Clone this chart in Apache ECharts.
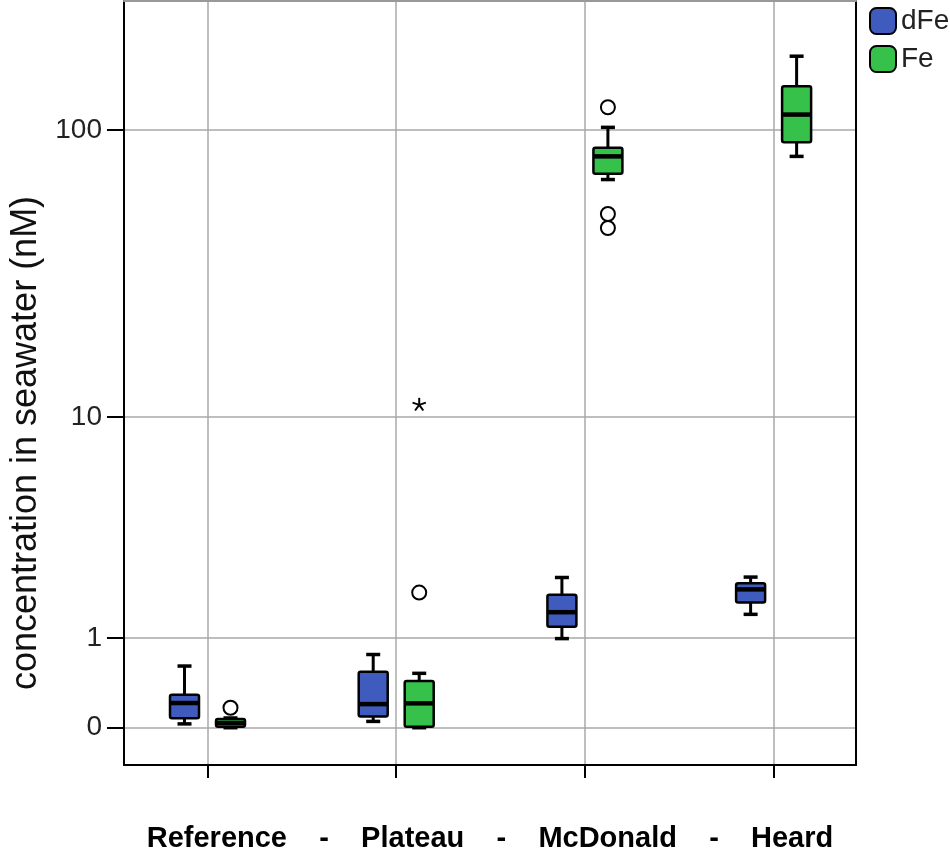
<!DOCTYPE html>
<html><head><meta charset="utf-8">
<script src="https://cdn.jsdelivr.net/npm/echarts@6/dist/echarts.min.js"></script>
<style>html,body{margin:0;padding:0;background:#fff}#c{width:950px;height:851px}</style>
</head><body><div id="c"></div>
<script>
// ---------------- data ----------------
const categories = ['Reference', 'Plateau', 'McDonald', 'Heard'];
const seriesNames = ['dFe', 'Fe'];
// box statistics per category: [lower whisker, Q1, median, Q3, upper whisker] (nM)
const dFeBoxes = [
  [0.03, 0.075, 0.21, 0.29, 0.61],
  [0.05, 0.09, 0.20, 0.54, 0.76],
  [0.99, 1.18, 1.44, 1.79, 2.19],
  [1.40, 1.63, 1.91, 2.05, 2.20]
];
const feBoxes = [
  [0.0, 0.008, 0.037, 0.07, 0.078],
  [0.0, 0.008, 0.207, 0.434, 0.522],
  [67.9, 71.1, 81.4, 87.0, 102.1],
  [81.4, 90.9, 112.8, 140.6, 177.6]
];
// outliers: [category index, value]
const feOutliers = [[0, 0.167], [1, 1.84], [2, 119.4], [2, 51.8], [2, 46.4]];
// extreme values (asterisk): [category index, value]
const feExtremes = [[1, 11.1]];
const yTickLabels = [0, 1, 10, 100];

// ---------------- styling / layout ----------------
const BLUE = '#3e5bbd', GREEN = '#36c14b', GRID = '#a9a9a9';
const FONT = 'Liberation Sans, Arial, sans-serif';
const BOX_W = 29, CAP_W = 14, OFFSET = 23;
const tf = v => Math.log10(v + 1);           // axis transform log10(x+1)
const yTickVals = yTickLabels.map(tf);

function boxData(boxes) {
  return boxes.map((b, i) => [i].concat(b.map(tf)));
}
function pointData(pts) {
  return pts.map(p => [p[0], tf(p[1])]);
}

function boxRender(offset, fill) {
  return function (params, api) {
    const x = api.value(0);
    const pMin = api.coord([x, api.value(1)]);
    const pQ1 = api.coord([x, api.value(2)]);
    const pMed = api.coord([x, api.value(3)]);
    const pQ3 = api.coord([x, api.value(4)]);
    const pMax = api.coord([x, api.value(5)]);
    const cx = pMed[0] + offset;
    const hw = BOX_W / 2, cw = CAP_W / 2;
    const ls = { stroke: '#000', lineWidth: 3 };
    return {
      type: 'group',
      children: [
        { type: 'line', shape: { x1: cx, y1: pMax[1], x2: cx, y2: pQ3[1] }, style: ls },
        { type: 'line', shape: { x1: cx, y1: pQ1[1], x2: cx, y2: pMin[1] }, style: ls },
        { type: 'line', shape: { x1: cx - cw, y1: pMax[1], x2: cx + cw, y2: pMax[1] }, style: { stroke: '#000', lineWidth: 3.5 } },
        { type: 'line', shape: { x1: cx - cw, y1: pMin[1], x2: cx + cw, y2: pMin[1] }, style: { stroke: '#000', lineWidth: 3.5 } },
        { type: 'rect', shape: { x: cx - hw, y: pQ3[1], width: BOX_W, height: pQ1[1] - pQ3[1], r: 2 },
          style: { fill: fill, stroke: '#000', lineWidth: 2.5 } },
        { type: 'line', shape: { x1: cx - hw, y1: pMed[1], x2: cx + hw, y2: pMed[1] }, style: { stroke: '#000', lineWidth: 4.5 } }
      ]
    };
  };
}
function outlierRender(offset) {
  return function (params, api) {
    const p = api.coord([api.value(0), api.value(1)]);
    return { type: 'circle', shape: { cx: p[0] + offset, cy: p[1], r: 7 },
      style: { fill: '#fff', stroke: '#000', lineWidth: 2 } };
  };
}
function extremeRender(offset) {
  return function (params, api) {
    const p = api.coord([api.value(0), api.value(1)]);
    const cx = p[0] + offset, cy = p[1];
    const arms = [];
    for (let k = 0; k < 5; k++) {
      const a = -Math.PI / 2 + k * 2 * Math.PI / 5;
      arms.push({ type: 'line', shape: { x1: cx, y1: cy, x2: cx + 7 * Math.cos(a), y2: cy + 7 * Math.sin(a) },
        style: { stroke: '#000', lineWidth: 2 } });
    }
    return { type: 'group', children: arms };
  };
}

const chart = echarts.init(document.getElementById('c'), null, { renderer: 'canvas' });
chart.setOption({
  animation: false,
  backgroundColor: '#fff',
  textStyle: { fontFamily: FONT },
  grid: { left: 124, right: 94, top: 1, bottom: 86, containLabel: false, outerBoundsMode: 'none' },
  legend: {
    orient: 'vertical', left: 869, top: 7, padding: 0,
    itemWidth: 26, itemHeight: 26, itemGap: 10, icon: 'roundRect',
    textStyle: { fontSize: 28, color: '#222', fontFamily: FONT },
    data: [
      { name: seriesNames[0], itemStyle: { color: BLUE, borderColor: '#000', borderWidth: 2 } },
      { name: seriesNames[1], itemStyle: { color: GREEN, borderColor: '#000', borderWidth: 2 } }
    ]
  },
  xAxis: [{
    type: 'value', position: 'bottom', min: -0.4425, max: 3.4366,
    axisLine: { show: true, onZero: false, lineStyle: { color: '#000', width: 2 } },
    axisTick: { show: true, length: 13, customValues: [0, 1, 2, 3], lineStyle: { color: '#000', width: 2 } },
    axisLabel: { show: false },
    splitLine: { show: true, lineStyle: { color: GRID, width: 1.5 } },
    name: categories.join('    -    '),
    nameLocation: 'middle', nameGap: 59,
    nameTextStyle: { fontSize: 29, fontWeight: 'bold', color: '#000', fontFamily: FONT }
  }, {
    type: 'value', position: 'top', min: -0.4425, max: 3.4366,
    axisLine: { show: true, onZero: false, lineStyle: { color: '#999', width: 2 } },
    axisTick: { show: false }, axisLabel: { show: false }, splitLine: { show: false }
  }],
  yAxis: [{
    type: 'value', position: 'left', min: -0.125, max: 2.437,
    axisLine: { show: true, onZero: false, lineStyle: { color: '#000', width: 2 } },
    axisTick: { show: true, length: 17, customValues: yTickVals, lineStyle: { color: '#000', width: 2 } },
    axisLabel: {
      customValues: yTickVals, fontSize: 28, color: '#222', margin: 22, fontFamily: FONT,
      formatter: v => String(yTickLabels[yTickVals.findIndex(t => Math.abs(t - v) < 1e-9)])
    },
    splitLine: { show: true, lineStyle: { color: GRID, width: 1.5 } },
    name: 'concentration in seawater (nM)',
    nameLocation: 'middle', nameGap: 73,
    nameTextStyle: { fontSize: 36, color: '#111', fontFamily: FONT, padding: [0, 120, 0, 0] }
  }, {
    type: 'value', position: 'right', min: -0.125, max: 2.437,
    axisLine: { show: true, onZero: false, lineStyle: { color: '#000', width: 2 } },
    axisTick: { show: false }, axisLabel: { show: false }, splitLine: { show: false }
  }],
  series: [
    { name: seriesNames[0], type: 'custom', xAxisIndex: 0, yAxisIndex: 0, itemStyle: { color: BLUE },
      encode: { x: 0, y: [1, 2, 3, 4, 5] }, data: boxData(dFeBoxes), renderItem: boxRender(-OFFSET, BLUE) },
    { name: seriesNames[1], type: 'custom', xAxisIndex: 0, yAxisIndex: 0, itemStyle: { color: GREEN },
      encode: { x: 0, y: [1, 2, 3, 4, 5] }, data: boxData(feBoxes), renderItem: boxRender(OFFSET, GREEN) },
    { name: 'Fe outliers', type: 'custom', z: 3, encode: { x: 0, y: 1 },
      data: pointData(feOutliers), renderItem: outlierRender(OFFSET) },
    { name: 'Fe extremes', type: 'custom', z: 3, encode: { x: 0, y: 1 },
      data: pointData(feExtremes), renderItem: extremeRender(OFFSET) }
  ]
});
</script>
</body></html>
